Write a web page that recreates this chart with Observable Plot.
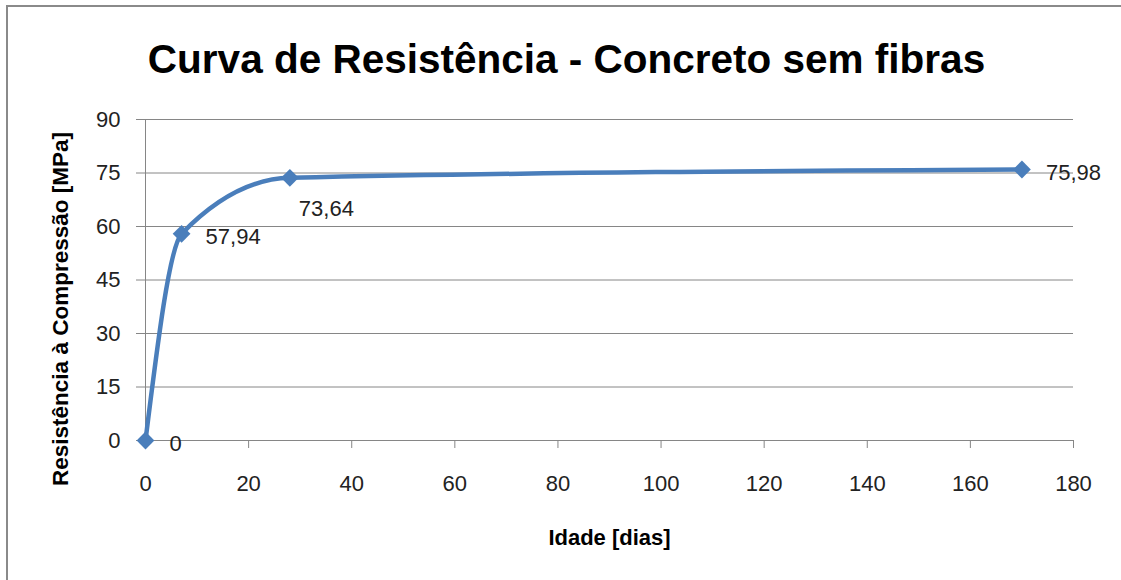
<!DOCTYPE html>
<html>
<head>
<meta charset="utf-8">
<script src="https://cdn.jsdelivr.net/npm/d3@7"></script>
<script src="https://cdn.jsdelivr.net/npm/@observablehq/plot@0.6"></script>
<style>
  html, body { margin: 0; padding: 0; background: #fff; overflow: hidden; }
  #wrap { position: relative; width: 1121px; height: 580px; }
  #border { position: absolute; left: 6px; top: 5px; width: 1300px; height: 800px;
            border-left: 2px solid #8a8a8a; border-top: 2px solid #8a8a8a; pointer-events: none; }
  svg { display: block; }
</style>
</head>
<body>
<div id="wrap"><div id="border"></div></div>
<script>
// ---- data ----
const days = [0, 7, 28, 170];
const strength = [0, 57.94, 73.64, 75.98];
const valueLabels = ["0", "57,94", "73,64", "75,98"];
const xTicks = [0, 20, 40, 60, 80, 100, 120, 140, 160, 180];
const yTicks = [0, 15, 30, 45, 60, 75, 90];
const titleText = "Curva de Resistência - Concreto sem fibras";
const xLabel = "Idade [dias]";
const yLabel = "Resistência à Compressão [MPa]";

const data = days.map((d, i) => ({day: d, mpa: strength[i], label: valueLabels[i]}));

const blue = "#4a7ebb";
const grid = "#868686";
const font = "'Liberation Sans', Arial, sans-serif";

const chart = Plot.plot({
  width: 1121,
  height: 580,
  marginLeft: 145,
  marginRight: 48,
  marginTop: 119,
  marginBottom: 140,
  style: {fontFamily: font, fontSize: "22px", color: "#222", background: "transparent"},
  x: {domain: [0, 180], label: null},
  y: {domain: [0, 90], label: null},
  marks: [
    Plot.gridY(yTicks, {stroke: grid, strokeOpacity: 1, strokeWidth: 1}),
    Plot.ruleX([0], {stroke: grid, strokeWidth: 1}),
    Plot.ruleY([0], {stroke: grid, strokeWidth: 1}),
    Plot.axisX(xTicks, {tickSize: 8, tickPadding: 27, stroke: grid, fill: "#222", fontSize: 22, tickFormat: d => String(d)}),
    Plot.axisY(yTicks, {tickSize: 9, tickPadding: 16, stroke: grid, fill: "#222", fontSize: 22, tickFormat: d => String(d)}),
    Plot.line(data, {x: "day", y: "mpa", curve: "monotone-x", stroke: blue, strokeWidth: 4.5}),
    Plot.dot(data, {x: "day", y: "mpa", symbol: "diamond2", r: 8, fill: blue, stroke: null}),
    Plot.text(data, {filter: (d, i) => i !== 2, x: "day", y: "mpa", text: "label", textAnchor: "start", dx: 24, dy: 3, fontSize: 22, fill: "#222"}),
    Plot.text(data, {filter: (d, i) => i === 2, x: "day", y: "mpa", text: "label", textAnchor: "start", dx: 9, dy: 31, fontSize: 22, fill: "#222"}),
    Plot.text([titleText], {frameAnchor: "top-left", dx: 421, dy: -59, textAnchor: "middle", lineAnchor: "middle", fontSize: 40.5, fontWeight: "bold", fill: "#000"}),
    Plot.text([xLabel], {frameAnchor: "bottom", dy: 97, textAnchor: "middle", lineAnchor: "middle", fontSize: 22, fontWeight: "bold", fill: "#000"}),
    Plot.text([yLabel], {frameAnchor: "left", dx: -85, dy: 29, rotate: -90, textAnchor: "middle", lineAnchor: "middle", fontSize: 22.5, fontWeight: "bold", fill: "#000"})
  ]
});

document.getElementById("wrap").prepend(chart);
</script>
</body>
</html>
